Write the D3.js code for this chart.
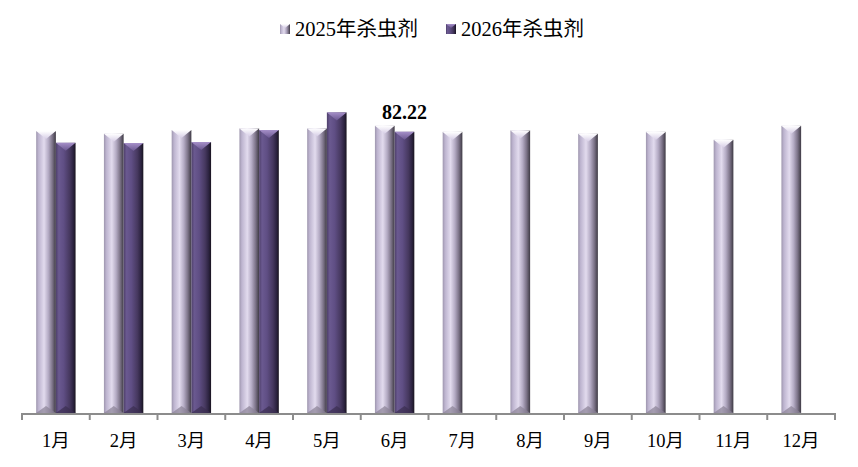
<!DOCTYPE html>
<html>
<head>
<meta charset="utf-8">
<script src="https://cdn.jsdelivr.net/npm/d3@7"></script>
<style>
  body { margin: 0; background: #fff; }
  text { font-family: "Liberation Serif", "Times New Roman", "Noto Sans CJK SC", serif; }
</style>
</head>
<body>
<div id="chart"></div>
<script>
// data
let months = ["1月", "2月", "3月", "4月", "5月", "6月", "7月", "8月", "9月", "10月", "11月", "12月"];
let seriesNames = ["2025年杀虫剂", "2026年杀虫剂"];
let values2025 = [82.42, 81.64, 82.72, 83.21, 83.21, 83.97, 82.2, 82.63, 81.64, 82.2, 79.88, 83.97];
let values2026 = [79.0, 78.92, 79.21, 82.72, 87.89, 82.22, null, null, null, null, null, null];
let labelMonth = "6月"; // the one value with a data label
let labelSeries = "2026年杀虫剂";

let width = 858, height = 467;
let margin = {top: 71, left: 22, right: 23, bottom: 54};

let svg = d3.select("#chart").append("svg")
    .attr("width", width)
    .attr("height", height);

// gradients for the bevelled bars
let defs = svg.append("defs");
let grads = {
  "2025年杀虫剂": [["0%", "#9e96ae"], ["12%", "#bdb4cf"], ["40%", "#e2dbee"], ["62%", "#b4abc4"], ["82%", "#7c7388"], ["100%", "#3e3a44"]],
  "2026年杀虫剂": [["0%", "#4e3f6a"], ["15%", "#6a5990"], ["40%", "#5f4e84"], ["70%", "#46385f"], ["88%", "#2c2340"], ["100%", "#19141f"]]
};
let topCol = {"2025年杀虫剂": ["#ffffff", "#d6cde6"], "2026年杀虫剂": ["#a58fc8", "#6a5790"]};
seriesNames.forEach((s, i) => {
  let g = defs.append("linearGradient").attr("id", "side" + i)
      .attr("x1", "0%").attr("x2", "100%").attr("y1", "0%").attr("y2", "0%");
  grads[s].forEach(st => g.append("stop").attr("offset", st[0]).attr("stop-color", st[1]));
  let t = defs.append("linearGradient").attr("id", "top" + i)
      .attr("x1", "0%").attr("x2", "0%").attr("y1", "0%").attr("y2", "100%");
  t.append("stop").attr("offset", "0%").attr("stop-color", topCol[s][0]);
  t.append("stop").attr("offset", "100%").attr("stop-color", topCol[s][1]);
});

// scales
let x0 = d3.scaleBand()
    .domain(months)
    .range([margin.left, width - margin.right])
    .padding(0);

let x1 = d3.scaleBand()
    .domain(seriesNames)
    .range([0, x0.bandwidth()])
    .paddingInner(0)
    .paddingOuter(0.72);

let y = d3.scaleLinear()
    .domain([0, 100])
    .range([height - margin.bottom, margin.top]);

let rows = [];
months.forEach((m, i) => {
  rows.push({month: m, series: seriesNames[0], si: 0, value: values2025[i]});
  if (values2026[i] != null) rows.push({month: m, series: seriesNames[1], si: 1, value: values2026[i]});
});

// bars
let bars = svg.append("g").selectAll("g")
    .data(rows)
    .join("g")
    .attr("transform", d => "translate(" + (x0(d.month) + x1(d.series)) + ",0)");

let bw = x1.bandwidth();
let bev = 8;

bars.append("rect")
    .attr("x", 0)
    .attr("y", d => y(d.value))
    .attr("width", bw)
    .attr("height", d => y(0) - y(d.value))
    .attr("fill", d => "url(#side" + d.si + ")");

// top bevel (light triangle pointing down)
bars.append("path")
    .attr("d", d => {
      let t = y(d.value);
      return "M0," + t + "L" + bw + "," + t + "L" + (bw / 2) + "," + (t + bev) + "Z";
    })
    .attr("fill", d => "url(#top" + d.si + ")");

// bottom bevel (dark triangle pointing up)
bars.append("path")
    .attr("d", d => {
      let b = y(0);
      return "M0," + b + "L" + bw + "," + b + "L" + (bw / 2) + "," + (b - bev + 1) + "Z";
    })
    .attr("fill", d => d.si == 0 ? "#8a8296" : "#3a2e50")
    .attr("opacity", 0.7);

// axis
let axisG = svg.append("g");
axisG.append("line")
    .attr("x1", x0.range()[0]).attr("x2", x0.range()[1])
    .attr("y1", y(0) + 1).attr("y2", y(0) + 1)
    .attr("stroke", "#8c8c8c").attr("stroke-width", 2);

let tickXs = months.map(m => x0(m)).concat([x0.range()[1]]);
axisG.selectAll(".tk")
    .data(tickXs)
    .join("line")
    .attr("x1", d => d).attr("x2", d => d)
    .attr("y1", y(0)).attr("y2", y(0) + 7)
    .attr("stroke", "#8c8c8c").attr("stroke-width", 2);

axisG.selectAll(".lbl")
    .data(months)
    .join("text")
    .attr("x", d => x0(d) + x0.bandwidth() / 2)
    .attr("y", y(0) + 34)
    .attr("text-anchor", "middle")
    .attr("font-size", 18.5)
    .attr("fill", "#000")
    .text(d => d);

// data label
let lblRow = rows.find(r => r.month == labelMonth && r.series == labelSeries);
svg.append("text")
    .attr("x", x0(lblRow.month) + x1(lblRow.series) + bw / 2)
    .attr("y", y(lblRow.value) - 13)
    .attr("text-anchor", "middle")
    .attr("font-size", 20)
    .attr("font-weight", "bold")
    .text(lblRow.value.toFixed(2));

// legend
let legendX = [280, 446];
let legend = svg.append("g").selectAll("g")
    .data(seriesNames)
    .join("g")
    .attr("transform", (d, i) => "translate(" + legendX[i] + ",24)");

legend.append("rect")
    .attr("width", 10).attr("height", 10)
    .attr("fill", (d, i) => "url(#side" + i + ")");
legend.append("path")
    .attr("d", "M0,0L10,0L5,4Z")
    .attr("fill", (d, i) => "url(#top" + i + ")");

legend.append("text")
    .attr("x", 15)
    .attr("y", 12)
    .attr("font-size", 20.5)
    .text(d => d);
</script>
</body>
</html>
